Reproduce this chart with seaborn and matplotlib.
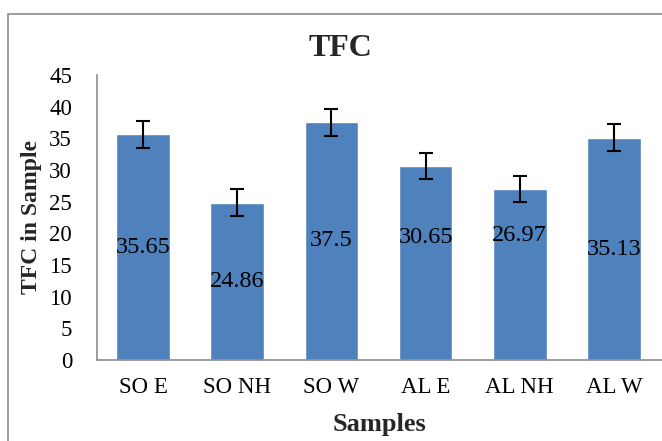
import numpy as np
import pandas as pd
import seaborn as sns
import matplotlib.pyplot as plt
from matplotlib.patches import Rectangle

samples = ["SO E", "SO NH", "SO W", "AL E", "AL NH", "AL W"]
tfc = [35.65, 24.86, 37.5, 30.65, 26.97, 35.13]
errors = [2.1, 2.1, 2.1, 2.1, 2.1, 2.1]
# label heights as they sit in the original (two were nudged up by hand)
label_y = [17.8, 12.4, 18.8, 19.4, 19.6, 17.5]

sns.set_theme(style="white")
plt.rcParams['font.family'] = ['Liberation Serif', 'DejaVu Serif']

df = pd.DataFrame({"Samples": samples, "TFC": tfc})

fig = plt.figure(figsize=(6.62, 4.41), dpi=100)
ax = fig.add_axes([97/662, 1 - 360/441, 1 - 97/662, (360 - 75)/441])

sns.barplot(data=df, x="Samples", y="TFC", color="#4F81BD", saturation=1,
            width=0.57, errorbar=None, ax=ax)
ax.errorbar(np.arange(len(samples)), tfc, yerr=errors, fmt="none",
            ecolor="black", elinewidth=1.5, capsize=5, capthick=1.5)

for i, (v, ly) in enumerate(zip(tfc, label_y)):
    ax.text(i, ly, f"{v:g}", ha="center", va="center", fontsize=17.5, color="black")

ax.set_ylim(0, 45)
ax.set_xlim(-0.49, 5.51)
ax.set_yticks(range(0, 46, 5))
ax.tick_params(axis="both", length=0, labelsize=16.5, colors="black")
ax.tick_params(axis="x", pad=12)
ax.tick_params(axis="y", pad=18)
for s in ["top", "right"]:
    ax.spines[s].set_visible(False)
for s in ["left", "bottom"]:
    ax.spines[s].set_color("#8c8c8c")
    ax.spines[s].set_linewidth(1.2)

ax.set_xlabel("Samples", fontsize=19, fontweight="bold", labelpad=11)
ax.set_ylabel("TFC in Sample", fontsize=17, fontweight="bold", labelpad=5)
fig.text(340/662, 1 - 48/441, "TFC", ha="center", va="center", fontsize=23, fontweight="bold")

# chart frame like the Excel chart area
fig.patches.append(Rectangle((8/662, -0.1), 1.2, 1 - 14/441 + 0.1, transform=fig.transFigure,
                             fill=False, edgecolor="#8c8c8c", linewidth=1.2))

fig.savefig("out.png", dpi=100)
